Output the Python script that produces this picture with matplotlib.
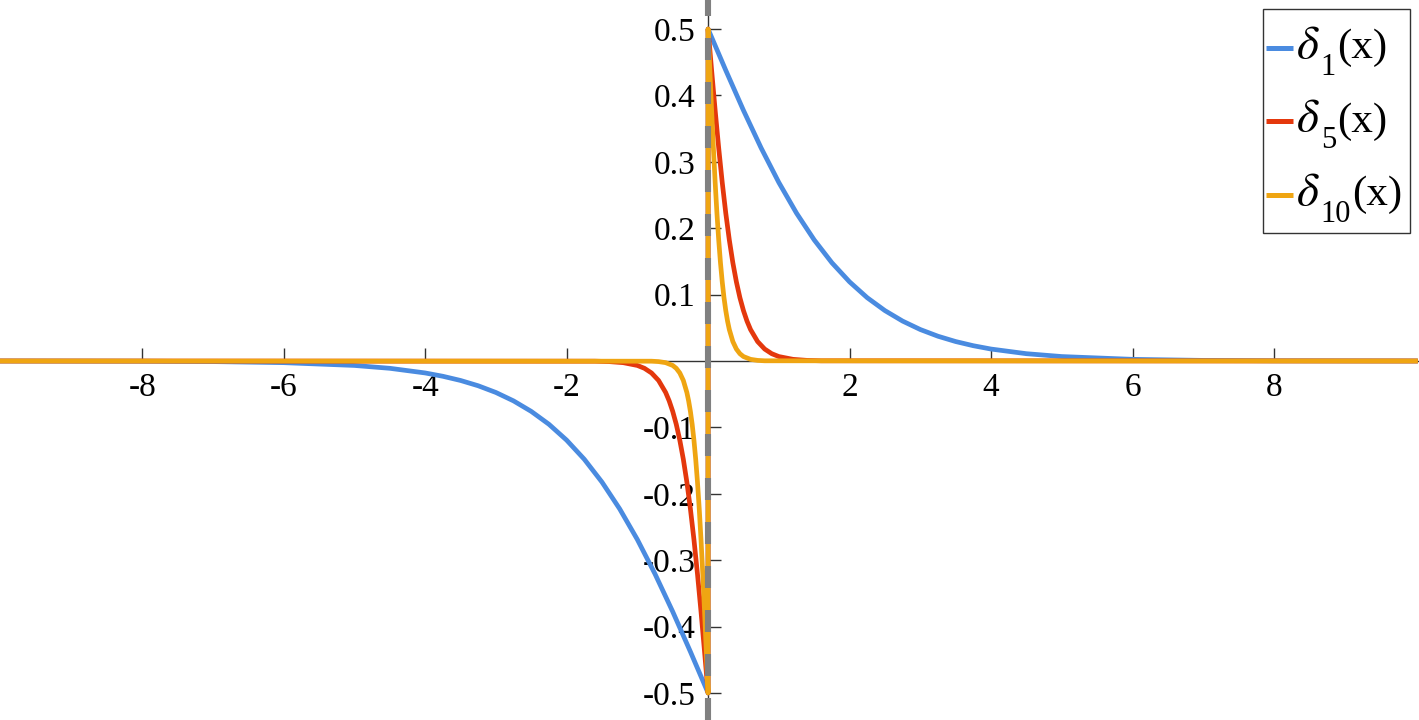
import matplotlib
matplotlib.use("Agg")
import matplotlib.pyplot as plt
from matplotlib.transforms import IdentityTransform
from matplotlib.patches import Rectangle
from matplotlib.lines import Line2D

plt.rcParams['font.family'] = ['Liberation Serif', 'DejaVu Serif']
plt.rcParams['mathtext.fontset'] = 'stix'
plt.rcParams['axes.unicode_minus'] = False

# ---- data ----
x1 = [-10, -8, -7, -6, -5, -4.5, -4, -3.75, -3.5, -3.25, -3, -2.75, -2.5, -2.25,
      -2, -1.75, -1.5, -1.25, -1, -0.75, -0.5, -0.25, 0,
      0, 0.25, 0.5, 0.75, 1, 1.25, 1.5, 1.75, 2, 2.25, 2.5, 2.75, 3, 3.25, 3.5,
      3.75, 4, 4.5, 5, 6, 7, 8, 10]
y1 = [0.0, -0.0003, -0.0009, -0.0025, -0.0067, -0.0110, -0.0180, -0.0230, -0.0293,
      -0.0373, -0.0474, -0.0601, -0.0759, -0.0953, -0.1192, -0.1480, -0.1824,
      -0.2227, -0.2689, -0.3208, -0.3775, -0.4378, -0.5,
      0.5, 0.4378, 0.3775, 0.3208, 0.2689, 0.2227, 0.1824, 0.1480, 0.1192, 0.0953,
      0.0759, 0.0601, 0.0474, 0.0373, 0.0293, 0.0230, 0.0180, 0.0110, 0.0067,
      0.0025, 0.0009, 0.0003, 0.0]

x5 = [-10, -1.6, -1.4, -1.2, -1.0, -0.9, -0.8, -0.7, -0.6, -0.55, -0.5, -0.45,
      -0.4, -0.35, -0.3, -0.25, -0.2, -0.15, -0.1, -0.05, 0,
      0, 0.05, 0.1, 0.15, 0.2, 0.25, 0.3, 0.35, 0.4, 0.45, 0.5, 0.55, 0.6, 0.7,
      0.8, 0.9, 1.0, 1.2, 1.4, 1.6, 10]
y5 = [0.0, -0.0003, -0.0009, -0.0025, -0.0067, -0.0110, -0.0180, -0.0293, -0.0474,
      -0.0601, -0.0759, -0.0953, -0.1192, -0.1480, -0.1824, -0.2227, -0.2689,
      -0.3208, -0.3775, -0.4378, -0.5,
      0.5, 0.4378, 0.3775, 0.3208, 0.2689, 0.2227, 0.1824, 0.1480, 0.1192, 0.0953,
      0.0759, 0.0601, 0.0474, 0.0293, 0.0180, 0.0110, 0.0067, 0.0025, 0.0009,
      0.0003, 0.0]

x10 = [-10, -0.8, -0.7, -0.6, -0.5, -0.45, -0.4, -0.35, -0.3, -0.275, -0.25,
       -0.225, -0.2, -0.175, -0.15, -0.125, -0.1, -0.075, -0.05, -0.025, 0,
       0, 0.025, 0.05, 0.075, 0.1, 0.125, 0.15, 0.175, 0.2, 0.225, 0.25, 0.275,
       0.3, 0.35, 0.4, 0.45, 0.5, 0.6, 0.7, 0.8, 10]
y10 = [0.0, -0.0003, -0.0009, -0.0025, -0.0067, -0.0110, -0.0180, -0.0293, -0.0474,
       -0.0601, -0.0759, -0.0953, -0.1192, -0.1480, -0.1824, -0.2227, -0.2689,
       -0.3208, -0.3775, -0.4378, -0.5,
       0.5, 0.4378, 0.3775, 0.3208, 0.2689, 0.2227, 0.1824, 0.1480, 0.1192, 0.0953,
       0.0759, 0.0601, 0.0474, 0.0293, 0.0180, 0.0110, 0.0067, 0.0025, 0.0009,
       0.0003, 0.0]

legend_subscripts = ['1', '5', '10']
legend_symbol = r'$\delta$'
legend_arg = '(x)'
xticks = [-8, -6, -4, -2, 2, 4, 6, 8]
xtick_labels = ['-8', '-6', '-4', '-2', '2', '4', '6', '8']
yticks = [-0.5, -0.4, -0.3, -0.2, -0.1, 0.1, 0.2, 0.3, 0.4, 0.5]
ytick_labels = ['-0.5', '-0.4', '-0.3', '-0.2', '-0.1', '0.1', '0.2', '0.3', '0.4', '0.5']

colors = ['#4A8BE0', '#E4380D', '#EFA512']

# ---- figure ----
W, H = 1419, 720
fig = plt.figure(figsize=(W / 100, H / 100), dpi=100)
ax = fig.add_axes([0, 0, 1, 1])
ax.set_xlim(-10.01, 10.05)
ax.set_ylim(-0.5407, 0.5437)

lw = 3.4
for xs, ys, c, sub in zip([x1, x5, x10], [y1, y5, y10], colors, legend_subscripts):
    ax.plot(xs, ys, color=c, lw=lw, label=r'$\delta_{%s}$(x)' % sub,
            solid_joinstyle='round', zorder=3)

ax.axvline(0, color='#808080', lw=4.4, dashes=(3.6, 3.6), zorder=5)

for s in ['top', 'right']:
    ax.spines[s].set_visible(False)
for s in ['left', 'bottom']:
    ax.spines[s].set_position(('data', 0))
    ax.spines[s].set_color('#333333')
    ax.spines[s].set_linewidth(1.0)
    ax.spines[s].set_zorder(1)

ax.set_xticks(xticks)
ax.set_xticklabels(xtick_labels)
ax.set_yticks(yticks)
ax.set_yticklabels(ytick_labels)
ax.tick_params(axis='both', direction='in', length=9.5, width=1.0, color='#333333',
               labelsize=24, labelcolor='black')
ax.tick_params(axis='x', pad=8)
ax.tick_params(axis='y', pad=9)
ax.set_axisbelow(True)

# ---- legend (drawn in pixel coordinates, y measured from top) ----
idt = IdentityTransform()
def py(y):
    return H - y

frame = Rectangle((1262.5, py(233)), 1409.5 - 1262.5, 233 - 8.5, transform=idt,
                  facecolor='white', edgecolor='#333333', lw=1.0, zorder=10)
fig.add_artist(frame)

handle_y = [47.5, 121, 194.5]
renderer = fig.canvas.get_renderer()
for hy, c, sub in zip(handle_y, colors, legend_subscripts):
    fig.add_artist(Line2D([1265.5, 1293], [py(hy), py(hy)], transform=idt,
                          color=c, lw=3.6, solid_capstyle='butt', zorder=11))
    base = hy + 10.5
    t1 = fig.text(1296, py(base), legend_symbol, transform=idt, fontsize=34,
                  va='baseline', ha='left', zorder=12)
    x_after = t1.get_window_extent(renderer).x1 + 1
    t2 = fig.text(x_after, py(base + 17), sub, transform=idt, fontsize=22,
                  va='baseline', ha='left', zorder=12)
    x_after2 = t2.get_window_extent(renderer).x1 + 1
    fig.text(x_after2, py(base), legend_arg, transform=idt, fontsize=31,
             va='baseline', ha='left', zorder=12)

fig.savefig('out.png', dpi=100)
